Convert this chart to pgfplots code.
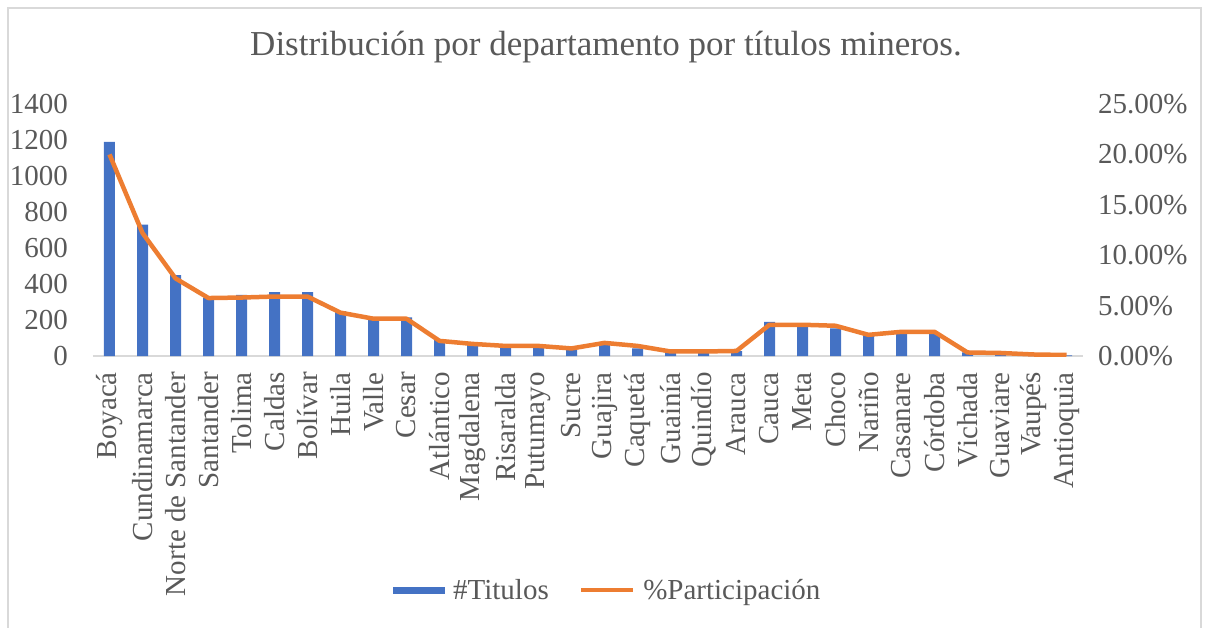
\documentclass[border=0pt]{standalone}
\usepackage{pgfplots}
\pgfplotsset{compat=1.18}
\usepackage{fontspec}
\setmainfont{Liberation Serif}
\definecolor{barblue}{RGB}{68,114,196}
\definecolor{lineorange}{RGB}{237,125,49}
\definecolor{txtgray}{RGB}{89,89,89}
\definecolor{axgray}{RGB}{217,217,217}
\newcommand{\tf}{\fontsize{29}{32}\selectfont}
\begin{document}
\begin{tikzpicture}[x=1pt,y=1pt]
\useasboundingbox (-93,-271) rectangle (1116,356);
\draw[axgray,line width=1.2pt] (-85,-280) -- (-85,348) -- (1108,348) -- (1108,-280);
\node[txtgray,font=\fontsize{35}{40}\selectfont] at (513,309) {Distribución por departamento por títulos mineros.};
\begin{axis}[
  at={(0,0)}, anchor=south west,
  scale only axis, width=990pt, height=252pt,
  xmin=-0.5, xmax=29.5, ymin=0, ymax=1400,
  ytick={0,200,...,1400},
  xtick={0,...,29},
  xticklabels={Boyacá,Cundinamarca,Norte de Santander,Santander,Tolima,Caldas,Bolívar,Huila,Valle,Cesar,Atlántico,Magdalena,Risaralda,Putumayo,Sucre,Guajira,Caquetá,Guainía,Quindío,Arauca,Cauca,Meta,Choco,Nariño,Casanare,Córdoba,Vichada,Guaviare,Vaupés,Antioquia},
  axis x line*=bottom, axis y line*=left,
  x axis line style={draw=axgray,line width=1.2pt,-},
  y axis line style={draw=none},
  major tick length=0pt,
  /pgf/number format/assume math mode=true,
  /pgf/number format/1000 sep={},
  ticklabel style={font=\tf, text=txtgray},
  yticklabel style={anchor=east, inner sep=0pt, xshift=-25pt},
  xticklabel style={rotate=90, anchor=east, inner sep=0pt},
  xticklabel shift=16pt,
  legend style={at={(0.519,-0.929)}, anchor=center, draw=none, font=\tf, text=txtgray, legend columns=2,
    nodes={inner sep=0pt},
    /tikz/every odd column/.append style={column sep=8pt},
    /tikz/every even column/.append style={column sep=30pt}},
  legend cell align=left,
]
\addplot[ybar, bar width=11pt, fill=barblue, draw=none,
  legend image code/.code={\fill[barblue] (0pt,-3.5pt) rectangle (52pt,3.5pt);}]
  coordinates {(0,1190)(1,730)(2,450)(3,325)(4,340)(5,355)(6,355)(7,250)(8,210)(9,215)(10,93)(11,61)(12,52)(13,52)(14,43)(15,71)(16,43)(17,24)(18,24)(19,27)(20,190)(21,182)(22,154)(23,117)(24,122)(25,122)(26,20)(27,18)(28,5)(29,3)};
\addlegendentry{\#Titulos}
\addlegendimage{lineorange, line width=4.5pt, legend image code/.code={\draw[lineorange,line width=4.5pt] (0pt,0pt) -- (52pt,0pt);}}
\addlegendentry{\%Participación}
\end{axis}
\begin{axis}[
  at={(0,0)}, anchor=south west,
  scale only axis, width=990pt, height=252pt,
  xmin=-0.5, xmax=29.5, ymin=0, ymax=25,
  ytick={0,5,...,25},
  axis x line=none, axis y line*=right,
  y axis line style={draw=none},
  major tick length=0pt,
  /pgf/number format/assume math mode=true,
  yticklabel={\pgfmathprintnumber[fixed,fixed zerofill,precision=2]{\tick}\%},
  yticklabel style={font=\tf, text=txtgray, anchor=west, inner sep=0pt, xshift=15pt},
]
\addplot[lineorange, line width=4.5pt, line join=round, mark=none]
  coordinates {(0,20.0)(1,12.2)(2,7.7)(3,5.75)(4,5.8)(5,5.9)(6,5.9)(7,4.3)(8,3.7)(9,3.7)(10,1.5)(11,1.2)(12,1.0)(13,1.0)(14,0.75)(15,1.3)(16,1.0)(17,0.45)(18,0.45)(19,0.5)(20,3.1)(21,3.1)(22,3.0)(23,2.1)(24,2.4)(25,2.4)(26,0.35)(27,0.3)(28,0.15)(29,0.1)};
\end{axis}
\end{tikzpicture}
\end{document}
